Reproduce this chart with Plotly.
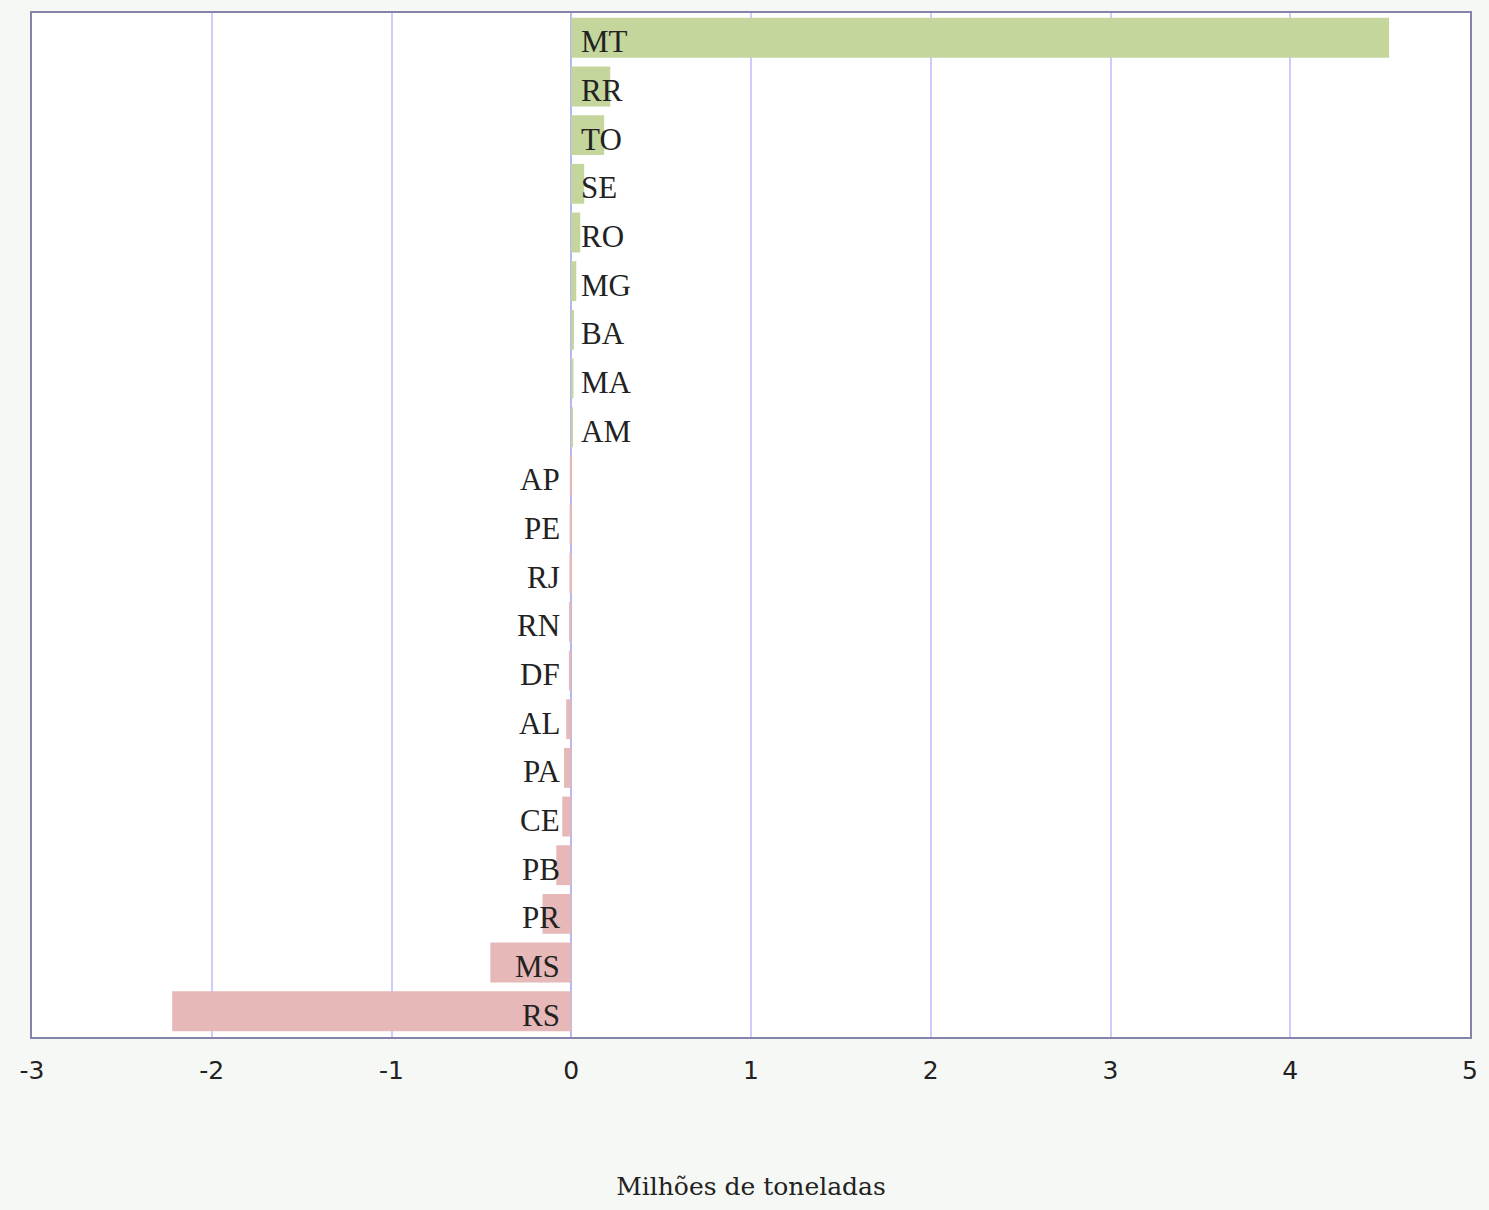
import plotly.graph_objects as go

states = ["MT", "RR", "TO", "SE", "RO", "MG", "BA", "MA", "AM", "AP", "PE",
          "RJ", "RN", "DF", "AL", "PA", "CE", "PB", "PR", "MS", "RS"]
values = [4.55, 0.217, 0.183, 0.072, 0.05, 0.028, 0.015, 0.012, 0.01, -0.008, -0.009,
          -0.01, -0.012, -0.013, -0.028, -0.04, -0.05, -0.083, -0.16, -0.45, -2.22]
x_ticks = [-3, -2, -1, 0, 1, 2, 3, 4, 5]
x_title = "Milhões de toneladas"

colors = ["#c4d69c" if v >= 0 else "#e6b8b8" for v in values]

fig = go.Figure()
fig.add_trace(go.Bar(
    y=states, x=values, orientation="h",
    marker=dict(color=colors, line=dict(width=0)),
    width=0.82, hoverinfo="x+y",
))

for s, v in zip(states, values):
    fig.add_annotation(
        x=0, y=s, text=s, showarrow=False,
        xanchor="left" if v >= 0 else "right",
        xshift=8 if v >= 0 else -9,
        yshift=-4,
        font=dict(family="Liberation Serif", size=31, color="#222222"),
    )

fig.update_layout(
    width=1489, height=1210,
    paper_bgcolor="#f6f8f5", plot_bgcolor="#ffffff",
    margin=dict(l=32, r=17, t=11, b=173),
    showlegend=False,
    xaxis=dict(
        range=[-3, 5], tickvals=x_ticks, ticktext=[str(t) for t in x_ticks],
        showgrid=True, gridcolor="#ccccff", gridwidth=1.5,
        zeroline=True, zerolinecolor="#b8b8f0", zerolinewidth=2,
        showline=True, linecolor="#8484aa", linewidth=2, mirror=True,
        ticks="", ticklen=0, ticklabelstandoff=10,
        tickfont=dict(family="DejaVu Sans", size=25, color="#222222"),
        title=dict(text=x_title, standoff=93,
                   font=dict(family="DejaVu Serif", size=25, color="#222222")),
    ),
    yaxis=dict(
        categoryorder="array", categoryarray=states,
        showticklabels=False, showgrid=False, zeroline=False,
        showline=True, linecolor="#8484aa", linewidth=2, mirror=True,
        range=[20.53, -0.51],
    ),
)

fig.write_html(
    "out.html",
    config={"displayModeBar": False},
    post_script="document.body.style.margin='0';document.body.style.background='#f6f8f5';",
)
